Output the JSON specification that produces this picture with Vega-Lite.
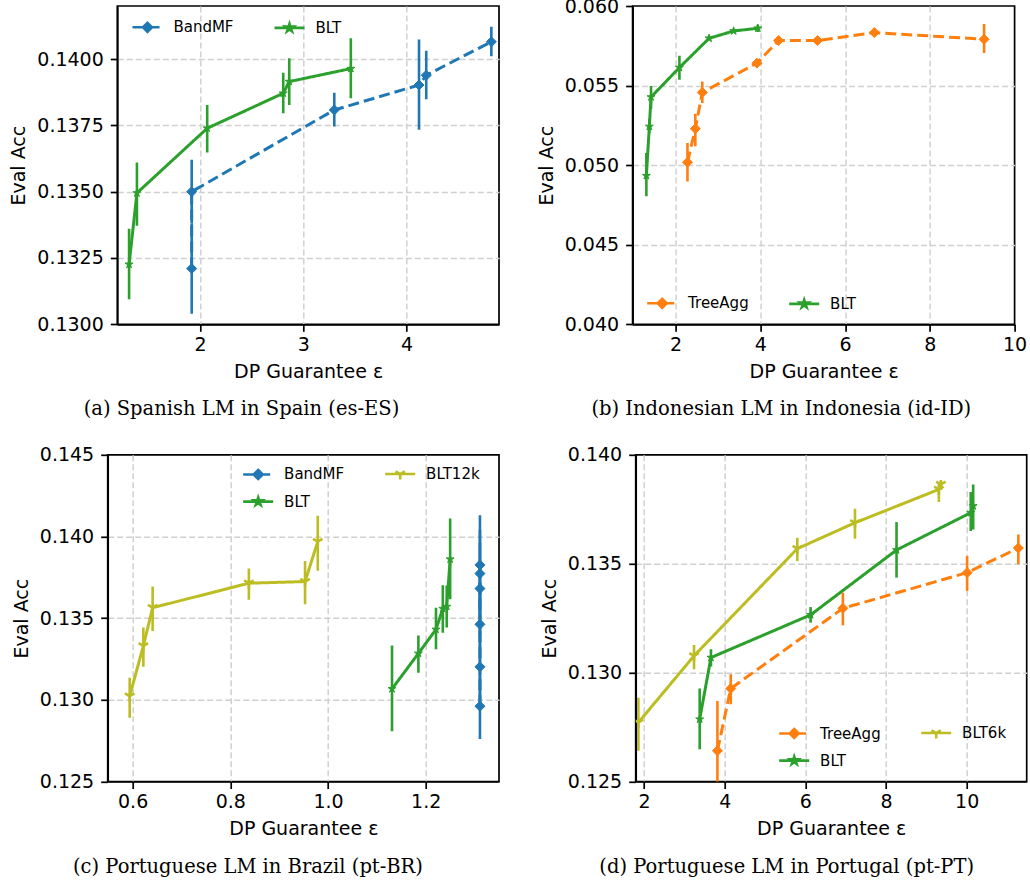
{
"$schema": "https://vega.github.io/schema/vega-lite/v6.json",
"autosize": {"type": "none"},
"padding": {"left": 107.7, "top": 6, "right": 922.3, "bottom": 879},
"background": "white",
"config": {
  "font": "DejaVu Sans",
  "view": {"stroke": "black", "strokeWidth": 1.7},
  "axis": {"labelFont": "DejaVu Sans", "labelFontSize": 19, "labelColor": "black", "titleFont": "DejaVu Sans", "titleFontSize": 19, "titleFontWeight": "normal", "titleColor": "black", "domainColor": "black", "domainWidth": 1.7, "tickColor": "black", "tickWidth": 1.7, "tickSize": 7, "grid": true, "gridColor": "#d0d0d0", "gridDash": [6, 3], "gridWidth": 1.5, "labelFlush": false, "labelOverlap": false},
  "axisX": {"labelPadding": 4, "titlePadding": 8},
  "axisY": {"labelPadding": 7, "titlePadding": 8},
  "title": {"font": "DejaVu Serif", "fontSize": 19.5, "fontWeight": "normal", "color": "black"},
  "legend": {"columns": 2, "padding": 0, "symbolSize": 900, "symbolStrokeWidth": 2.6, "symbolOpacity": 1, "labelFont": "DejaVu Sans", "labelFontSize": 15, "labelColor": "black", "labelOffset": 9.4, "columnPadding": 35, "rowPadding": -9.5}
},
"datasets": {
  "a": [
    {"s": "BandMF", "i": 0, "x": 1.92, "y": 0.1321, "lo": 0.1304, "hi": 0.1338},
    {"s": "BandMF", "i": 1, "x": 1.92, "y": 0.1350, "lo": 0.1338, "hi": 0.1362},
    {"s": "BandMF", "i": 2, "x": 3.30, "y": 0.13808, "lo": 0.13746, "hi": 0.13873},
    {"s": "BandMF", "i": 3, "x": 4.12, "y": 0.13902, "lo": 0.13733, "hi": 0.14074},
    {"s": "BandMF", "i": 4, "x": 4.19, "y": 0.13939, "lo": 0.13848, "hi": 0.14031},
    {"s": "BandMF", "i": 5, "x": 4.82, "y": 0.14065, "lo": 0.14011, "hi": 0.14122},
    {"s": "BLT", "i": 0, "x": 1.314, "y": 0.13226, "lo": 0.13094, "hi": 0.1336},
    {"s": "BLT", "i": 1, "x": 1.39, "y": 0.13495, "lo": 0.13372, "hi": 0.1361},
    {"s": "BLT", "i": 2, "x": 2.07, "y": 0.13739, "lo": 0.13648, "hi": 0.13827},
    {"s": "BLT", "i": 3, "x": 2.806, "y": 0.13871, "lo": 0.13796, "hi": 0.13948},
    {"s": "BLT", "i": 4, "x": 2.864, "y": 0.13915, "lo": 0.13827, "hi": 0.14003},
    {"s": "BLT", "i": 5, "x": 3.46, "y": 0.13964, "lo": 0.13852, "hi": 0.14078}
  ],
  "b": [
    {"s": "TreeAgg", "i": 0, "x": 2.28, "y": 0.05018, "lo": 0.04898, "hi": 0.05139},
    {"s": "TreeAgg", "i": 1, "x": 2.465, "y": 0.05229, "lo": 0.05118, "hi": 0.05323},
    {"s": "TreeAgg", "i": 2, "x": 2.63, "y": 0.05457, "lo": 0.0539, "hi": 0.05525},
    {"s": "TreeAgg", "i": 3, "x": 3.92, "y": 0.05641, "lo": 0.05625, "hi": 0.05657},
    {"s": "TreeAgg", "i": 4, "x": 4.43, "y": 0.05783, "lo": 0.0577, "hi": 0.05796},
    {"s": "TreeAgg", "i": 5, "x": 5.35, "y": 0.05783, "lo": 0.05772, "hi": 0.05794},
    {"s": "TreeAgg", "i": 6, "x": 6.69, "y": 0.05833, "lo": 0.05822, "hi": 0.05844},
    {"s": "TreeAgg", "i": 7, "x": 9.28, "y": 0.05791, "lo": 0.05704, "hi": 0.05887},
    {"s": "BLT", "i": 0, "x": 1.31, "y": 0.04934, "lo": 0.04805, "hi": 0.05076},
    {"s": "BLT", "i": 1, "x": 1.38, "y": 0.05243, "lo": 0.052, "hi": 0.0529},
    {"s": "BLT", "i": 2, "x": 1.42, "y": 0.05428, "lo": 0.05355, "hi": 0.05498},
    {"s": "BLT", "i": 3, "x": 2.09, "y": 0.05613, "lo": 0.05536, "hi": 0.05687},
    {"s": "BLT", "i": 4, "x": 2.79, "y": 0.05797, "lo": 0.05785, "hi": 0.0581},
    {"s": "BLT", "i": 5, "x": 3.37, "y": 0.05843, "lo": 0.05832, "hi": 0.05854},
    {"s": "BLT", "i": 6, "x": 3.94, "y": 0.0586, "lo": 0.05837, "hi": 0.05882}
  ],
  "c": [
    {"s": "BandMF", "i": 0, "x": 1.311, "y": 0.12961, "lo": 0.1276, "hi": 0.1316},
    {"s": "BandMF", "i": 1, "x": 1.311, "y": 0.13202, "lo": 0.1295, "hi": 0.1345},
    {"s": "BandMF", "i": 2, "x": 1.311, "y": 0.13462, "lo": 0.132, "hi": 0.1372},
    {"s": "BandMF", "i": 3, "x": 1.311, "y": 0.13681, "lo": 0.134, "hi": 0.1396},
    {"s": "BandMF", "i": 4, "x": 1.311, "y": 0.13773, "lo": 0.135, "hi": 0.1404},
    {"s": "BandMF", "i": 5, "x": 1.311, "y": 0.13826, "lo": 0.1351, "hi": 0.1413},
    {"s": "BLT12k", "i": 0, "x": 0.594, "y": 0.13023, "lo": 0.1289, "hi": 0.13135},
    {"s": "BLT12k", "i": 1, "x": 0.622, "y": 0.1333, "lo": 0.13202, "hi": 0.13442},
    {"s": "BLT12k", "i": 2, "x": 0.641, "y": 0.13564, "lo": 0.13421, "hi": 0.13693},
    {"s": "BLT12k", "i": 3, "x": 0.838, "y": 0.13714, "lo": 0.13612, "hi": 0.13804},
    {"s": "BLT12k", "i": 4, "x": 0.953, "y": 0.13724, "lo": 0.13585, "hi": 0.1385},
    {"s": "BLT12k", "i": 5, "x": 0.979, "y": 0.13969, "lo": 0.1379, "hi": 0.14127},
    {"s": "BLT", "i": 0, "x": 1.131, "y": 0.13067, "lo": 0.12808, "hi": 0.13333},
    {"s": "BLT", "i": 1, "x": 1.185, "y": 0.13284, "lo": 0.13166, "hi": 0.13394},
    {"s": "BLT", "i": 2, "x": 1.221, "y": 0.13431, "lo": 0.13309, "hi": 0.13564},
    {"s": "BLT", "i": 3, "x": 1.235, "y": 0.13558, "lo": 0.13411, "hi": 0.13702},
    {"s": "BLT", "i": 4, "x": 1.243, "y": 0.13571, "lo": 0.13442, "hi": 0.137},
    {"s": "BLT", "i": 5, "x": 1.25, "y": 0.13861, "lo": 0.13615, "hi": 0.1411}
  ],
  "d": [
    {"s": "TreeAgg", "i": 0, "x": 3.82, "y": 0.12641, "lo": 0.124, "hi": 0.1287},
    {"s": "TreeAgg", "i": 1, "x": 4.15, "y": 0.12927, "lo": 0.12855, "hi": 0.12992},
    {"s": "TreeAgg", "i": 2, "x": 6.93, "y": 0.13295, "lo": 0.13217, "hi": 0.13367},
    {"s": "TreeAgg", "i": 3, "x": 10.01, "y": 0.13459, "lo": 0.13375, "hi": 0.13535},
    {"s": "TreeAgg", "i": 4, "x": 11.28, "y": 0.13572, "lo": 0.13497, "hi": 0.13634},
    {"s": "BLT", "i": 0, "x": 3.38, "y": 0.12786, "lo": 0.12648, "hi": 0.12927},
    {"s": "BLT", "i": 1, "x": 3.66, "y": 0.13069, "lo": 0.13028, "hi": 0.13107},
    {"s": "BLT", "i": 2, "x": 6.13, "y": 0.13265, "lo": 0.13229, "hi": 0.13301},
    {"s": "BLT", "i": 3, "x": 8.26, "y": 0.13563, "lo": 0.13436, "hi": 0.13691},
    {"s": "BLT", "i": 4, "x": 10.1, "y": 0.13734, "lo": 0.1365, "hi": 0.13829},
    {"s": "BLT", "i": 5, "x": 10.16, "y": 0.13765, "lo": 0.13657, "hi": 0.13864},
    {"s": "BLT6k", "i": 0, "x": 1.86, "y": 0.12771, "lo": 0.12641, "hi": 0.12885},
    {"s": "BLT6k", "i": 1, "x": 3.24, "y": 0.13077, "lo": 0.13015, "hi": 0.13127},
    {"s": "BLT6k", "i": 2, "x": 5.8, "y": 0.13569, "lo": 0.13512, "hi": 0.13619},
    {"s": "BLT6k", "i": 3, "x": 7.23, "y": 0.13688, "lo": 0.13615, "hi": 0.13752},
    {"s": "BLT6k", "i": 4, "x": 9.31, "y": 0.13841, "lo": 0.13783, "hi": 0.1387},
    {"s": "BLT6k", "i": 5, "x": 9.36, "y": 0.13864, "lo": 0.1384, "hi": 0.13884}
  ]
},
"spacing": 24.8,
"resolve": {"scale": {"color": "independent", "shape": "independent", "size": "independent", "stroke": "independent", "strokeDash": "independent", "strokeWidth": "independent"}},
"vconcat": [
  {
    "bounds": "flush",
    "spacing": 8.6,
    "resolve": {"scale": {"color": "independent", "shape": "independent", "size": "independent", "stroke": "independent", "strokeDash": "independent", "strokeWidth": "independent"}},
    "hconcat": [
      {"width": 1, "height": 1, "view": {"stroke": null}, "data": {"values": [{}]}, "mark": {"type": "point", "opacity": 0}, "encoding": {}},
      {
        "bounds": "flush",
        "spacing": 133.3,
        "resolve": {"scale": {"color": "independent", "shape": "independent", "size": "independent", "stroke": "independent", "strokeDash": "independent", "strokeWidth": "independent"}},
        "hconcat": [
          {
            "width": 381.7, "height": 318.3,
            "data": {"name": "a"},
            "title": {"text": "(a) Spanish LM in Spain (es-ES)", "orient": "bottom", "anchor": "middle", "dx": -66.7, "offset": 19},
            "encoding": {
              "x": {"field": "x", "type": "quantitative", "scale": {"domain": [1.2, 4.894], "nice": false, "zero": false}, "axis": {"values": [2, 3, 4], "format": "d", "title": "DP Guarantee ε"}},
              "y": {"field": "y", "type": "quantitative", "scale": {"domain": [0.13, 0.142], "nice": false, "zero": false}, "axis": {"values": [0.13, 0.1325, 0.135, 0.1375, 0.14], "format": ".4f", "title": "Eval Acc", "gridOpacity": {"condition": {"test": "datum.value <= 0.1301", "value": 0}, "value": 1}}},
              "color": {"field": "s", "type": "nominal", "scale": {"domain": ["BandMF", "BLT"], "range": ["#1f77b4", "#2ca02c"]}, "legend": null}
            },
            "layer": [
              {"mark": {"type": "rule", "strokeWidth": 2.6, "clip": true}, "encoding": {"y": {"field": "lo", "type": "quantitative", "scale": {"domain": [0.13, 0.142], "nice": false, "zero": false}, "axis": {"values": [0.13, 0.1325, 0.135, 0.1375, 0.14], "format": ".4f", "title": "Eval Acc", "gridOpacity": {"condition": {"test": "datum.value <= 0.1301", "value": 0}, "value": 1}}}, "y2": {"field": "hi"}}},
              {"mark": {"type": "line", "strokeWidth": 3, "clip": true}, "encoding": {"order": {"field": "i", "type": "quantitative"}, "strokeDash": {"field": "s", "type": "nominal", "scale": {"domain": ["BandMF", "BLT"], "range": [[11, 5], [1, 0]]}, "legend": null}}},
              {"mark": {"type": "point", "filled": true, "opacity": 1, "clip": true}, "encoding": {
                "shape": {"field": "s", "type": "nominal", "scale": {"domain": ["BandMF", "BLT"], "range": ["M0,-1L1,0L0,1L-1,0Z", "M0,-1L0.223,-0.307L0.951,-0.309L0.361,0.117L0.588,0.809L0,0.38L-0.588,0.809L-0.361,0.117L-0.951,-0.309L-0.223,-0.307Z"]}, "legend": null},
                "size": {"field": "s", "type": "nominal", "scale": {"type": "ordinal", "domain": ["BandMF", "BLT"], "range": [100, 70]}, "legend": null},
                "stroke": {"field": "s", "type": "nominal", "scale": {"domain": ["BandMF", "BLT"], "range": ["#1f77b4", "#2ca02c"]}, "legend": null},
                "strokeWidth": {"field": "s", "type": "nominal", "scale": {"type": "ordinal", "domain": ["BandMF", "BLT"], "range": [1, 1]}, "legend": null}
              }},
              {"mark": {"type": "point", "filled": true, "opacity": 0}, "encoding": {
                "color": {"field": "s", "type": "nominal", "scale": {"domain": ["BandMF", "BLT"], "range": ["#1f77b4", "#2ca02c"]}, "legend": {"title": null, "orient": "none", "legendX": 13.7, "legendY": 4.4}},
                "shape": {"field": "s", "type": "nominal", "scale": {"domain": ["BandMF", "BLT"], "range": ["M-1,0H-0.25M0.25,0H0.8M0,-0.3L0.3,0L0,0.3L-0.3,0Z", "M-1,0H1M0,-0.27L0.06,-0.083L0.257,-0.084L0.097,0.032L0.158,0.219L0,0.103L-0.158,0.219L-0.097,0.032L-0.257,-0.084L-0.06,-0.083Z"]}, "legend": {"title": null, "orient": "none", "legendX": 13.7, "legendY": 4.4}},
                "stroke": {"field": "s", "type": "nominal", "scale": {"domain": ["BandMF", "BLT"], "range": ["#1f77b4", "#2ca02c"]}, "legend": {"title": null, "orient": "none", "legendX": 13.7, "legendY": 4.4}}
              }}
            ],
            "resolve": {"scale": {"color": "independent", "shape": "independent", "stroke": "independent"}}
          },
          {
            "width": 382, "height": 318.3,
            "data": {"name": "b"},
            "title": {"text": "(b) Indonesian LM in Indonesia (id-ID)", "orient": "bottom", "anchor": "middle", "dx": -42.3, "offset": 19},
            "encoding": {
              "x": {"field": "x", "type": "quantitative", "scale": {"domain": [0.985, 10], "nice": false, "zero": false}, "axis": {"values": [2, 4, 6, 8, 10], "format": "d", "title": "DP Guarantee ε", "gridOpacity": {"condition": {"test": "datum.value >= 9.99", "value": 0}, "value": 1}}},
              "y": {"field": "y", "type": "quantitative", "scale": {"domain": [0.04, 0.06], "nice": false, "zero": false}, "axis": {"values": [0.04, 0.045, 0.05, 0.055, 0.06], "format": ".3f", "title": "Eval Acc", "gridOpacity": {"condition": {"test": "datum.value >= 0.0599 || datum.value <= 0.0401", "value": 0}, "value": 1}}},
              "color": {"field": "s", "type": "nominal", "scale": {"domain": ["TreeAgg", "BLT"], "range": ["#ff7f0e", "#2ca02c"]}, "legend": null}
            },
            "layer": [
              {"mark": {"type": "rule", "strokeWidth": 2.6, "clip": true}, "encoding": {"y": {"field": "lo", "type": "quantitative", "scale": {"domain": [0.04, 0.06], "nice": false, "zero": false}, "axis": {"values": [0.04, 0.045, 0.05, 0.055, 0.06], "format": ".3f", "title": "Eval Acc", "gridOpacity": {"condition": {"test": "datum.value >= 0.0599 || datum.value <= 0.0401", "value": 0}, "value": 1}}}, "y2": {"field": "hi"}}},
              {"mark": {"type": "line", "strokeWidth": 3, "clip": true}, "encoding": {"order": {"field": "i", "type": "quantitative"}, "strokeDash": {"field": "s", "type": "nominal", "scale": {"domain": ["TreeAgg", "BLT"], "range": [[11, 5], [1, 0]]}, "legend": null}}},
              {"mark": {"type": "point", "filled": true, "opacity": 1, "clip": true}, "encoding": {
                "shape": {"field": "s", "type": "nominal", "scale": {"domain": ["TreeAgg", "BLT"], "range": ["M0,-1L1,0L0,1L-1,0Z", "M0,-1L0.223,-0.307L0.951,-0.309L0.361,0.117L0.588,0.809L0,0.38L-0.588,0.809L-0.361,0.117L-0.951,-0.309L-0.223,-0.307Z"]}, "legend": null},
                "size": {"field": "s", "type": "nominal", "scale": {"type": "ordinal", "domain": ["TreeAgg", "BLT"], "range": [100, 70]}, "legend": null},
                "stroke": {"field": "s", "type": "nominal", "scale": {"domain": ["TreeAgg", "BLT"], "range": ["#ff7f0e", "#2ca02c"]}, "legend": null},
                "strokeWidth": {"field": "s", "type": "nominal", "scale": {"type": "ordinal", "domain": ["TreeAgg", "BLT"], "range": [1, 1]}, "legend": null}
              }},
              {"mark": {"type": "point", "filled": true, "opacity": 0}, "encoding": {
                "color": {"field": "s", "type": "nominal", "scale": {"domain": ["TreeAgg", "BLT"], "range": ["#ff7f0e", "#2ca02c"]}, "legend": {"title": null, "orient": "none", "legendX": 13.1, "legendY": 280.4}},
                "shape": {"field": "s", "type": "nominal", "scale": {"domain": ["TreeAgg", "BLT"], "range": ["M-1,0H-0.25M0.25,0H0.8M0,-0.3L0.3,0L0,0.3L-0.3,0Z", "M-1,0H1M0,-0.27L0.06,-0.083L0.257,-0.084L0.097,0.032L0.158,0.219L0,0.103L-0.158,0.219L-0.097,0.032L-0.257,-0.084L-0.06,-0.083Z"]}, "legend": {"title": null, "orient": "none", "legendX": 13.1, "legendY": 280.4}},
                "stroke": {"field": "s", "type": "nominal", "scale": {"domain": ["TreeAgg", "BLT"], "range": ["#ff7f0e", "#2ca02c"]}, "legend": {"title": null, "orient": "none", "legendX": 13.1, "legendY": 280.4}}
              }}
            ],
            "resolve": {"scale": {"color": "independent", "shape": "independent", "stroke": "independent"}}
          }
        ]
      }
    ]
  },
  {
    "bounds": "flush",
    "spacing": 136,
    "resolve": {"scale": {"color": "independent", "shape": "independent", "size": "independent", "stroke": "independent", "strokeDash": "independent", "strokeWidth": "independent"}},
    "hconcat": [
      {
        "width": 391.3, "height": 326.7,
        "data": {"name": "c"},
        "title": {"text": "(c) Portuguese LM in Brazil (pt-BR)", "orient": "bottom", "anchor": "middle", "dx": -55.4, "offset": 19},
        "encoding": {
          "x": {"field": "x", "type": "quantitative", "scale": {"domain": [0.549, 1.35], "nice": false, "zero": false}, "axis": {"values": [0.6, 0.8, 1.0, 1.2], "format": ".1f", "title": "DP Guarantee ε"}},
          "y": {"field": "y", "type": "quantitative", "scale": {"domain": [0.125, 0.145], "nice": false, "zero": false}, "axis": {"values": [0.125, 0.13, 0.135, 0.14, 0.145], "format": ".3f", "title": "Eval Acc", "gridOpacity": {"condition": {"test": "datum.value >= 0.1449 || datum.value <= 0.1251", "value": 0}, "value": 1}}},
          "color": {"field": "s", "type": "nominal", "scale": {"domain": ["BandMF", "BLT", "BLT12k"], "range": ["#1f77b4", "#2ca02c", "#bcbd22"]}, "legend": null}
        },
        "layer": [
          {"mark": {"type": "rule", "strokeWidth": 2.6, "clip": true}, "encoding": {"y": {"field": "lo", "type": "quantitative", "scale": {"domain": [0.125, 0.145], "nice": false, "zero": false}, "axis": {"values": [0.125, 0.13, 0.135, 0.14, 0.145], "format": ".3f", "title": "Eval Acc", "gridOpacity": {"condition": {"test": "datum.value >= 0.1449 || datum.value <= 0.1251", "value": 0}, "value": 1}}}, "y2": {"field": "hi"}}},
          {"mark": {"type": "line", "strokeWidth": 3, "clip": true}, "encoding": {"order": {"field": "i", "type": "quantitative"}, "strokeDash": {"field": "s", "type": "nominal", "scale": {"domain": ["BandMF", "BLT", "BLT12k"], "range": [[11, 5], [1, 0], [1, 0]]}, "legend": null}}},
          {"mark": {"type": "point", "filled": true, "opacity": 1, "clip": true}, "encoding": {
            "shape": {"field": "s", "type": "nominal", "scale": {"domain": ["BandMF", "BLT", "BLT12k"], "range": ["M0,-1L1,0L0,1L-1,0Z", "M0,-1L0.223,-0.307L0.951,-0.309L0.361,0.117L0.588,0.809L0,0.38L-0.588,0.809L-0.361,0.117L-0.951,-0.309L-0.223,-0.307Z", "M0,0L0,1M0,0L-0.866,-0.5M0,0L0.866,-0.5"]}, "legend": null},
            "size": {"field": "s", "type": "nominal", "scale": {"type": "ordinal", "domain": ["BandMF", "BLT", "BLT12k"], "range": [100, 70, 120]}, "legend": null},
            "stroke": {"field": "s", "type": "nominal", "scale": {"domain": ["BandMF", "BLT", "BLT12k"], "range": ["#1f77b4", "#2ca02c", "#bcbd22"]}, "legend": null},
            "strokeWidth": {"field": "s", "type": "nominal", "scale": {"type": "ordinal", "domain": ["BandMF", "BLT", "BLT12k"], "range": [1, 1, 2.6]}, "legend": null}
          }},
          {"mark": {"type": "point", "filled": true, "opacity": 0}, "encoding": {
            "color": {"field": "s", "type": "nominal", "scale": {"domain": ["BandMF", "BLT", "BLT12k"], "range": ["#1f77b4", "#2ca02c", "#bcbd22"]}, "legend": {"title": null, "orient": "none", "legendX": 134, "legendY": 2.3}},
            "shape": {"field": "s", "type": "nominal", "scale": {"domain": ["BandMF", "BLT", "BLT12k"], "range": ["M-1,0H-0.25M0.25,0H0.8M0,-0.3L0.3,0L0,0.3L-0.3,0Z", "M-1,0H1M0,-0.27L0.06,-0.083L0.257,-0.084L0.097,0.032L0.158,0.219L0,0.103L-0.158,0.219L-0.097,0.032L-0.257,-0.084L-0.06,-0.083Z", "M-1,0H1M0,0V0.36M0,0L-0.31,-0.18M0,0L0.31,-0.18"]}, "legend": {"title": null, "orient": "none", "legendX": 134, "legendY": 2.3}},
            "stroke": {"field": "s", "type": "nominal", "scale": {"domain": ["BandMF", "BLT", "BLT12k"], "range": ["#1f77b4", "#2ca02c", "#bcbd22"]}, "legend": {"title": null, "orient": "none", "legendX": 134, "legendY": 2.3}}
          }}
        ],
        "resolve": {"scale": {"color": "independent", "shape": "independent", "stroke": "independent"}}
      },
      {
        "width": 391, "height": 326.7,
        "data": {"name": "d"},
        "title": {"text": "(d) Portuguese LM in Portugal (pt-PT)", "orient": "bottom", "anchor": "middle", "dx": -44.5, "offset": 19},
        "encoding": {
          "x": {"field": "x", "type": "quantitative", "scale": {"domain": [1.794, 11.487], "nice": false, "zero": false}, "axis": {"values": [2, 4, 6, 8, 10], "format": "d", "title": "DP Guarantee ε"}},
          "y": {"field": "y", "type": "quantitative", "scale": {"domain": [0.125, 0.14], "nice": false, "zero": false}, "axis": {"values": [0.125, 0.13, 0.135, 0.14], "format": ".3f", "title": "Eval Acc", "gridOpacity": {"condition": {"test": "datum.value >= 0.1399 || datum.value <= 0.1251", "value": 0}, "value": 1}}},
          "color": {"field": "s", "type": "nominal", "scale": {"domain": ["TreeAgg", "BLT", "BLT6k"], "range": ["#ff7f0e", "#2ca02c", "#bcbd22"]}, "legend": null}
        },
        "layer": [
          {"mark": {"type": "rule", "strokeWidth": 2.6, "clip": true}, "encoding": {"y": {"field": "lo", "type": "quantitative", "scale": {"domain": [0.125, 0.14], "nice": false, "zero": false}, "axis": {"values": [0.125, 0.13, 0.135, 0.14], "format": ".3f", "title": "Eval Acc", "gridOpacity": {"condition": {"test": "datum.value >= 0.1399 || datum.value <= 0.1251", "value": 0}, "value": 1}}}, "y2": {"field": "hi"}}},
          {"mark": {"type": "line", "strokeWidth": 3, "clip": true}, "encoding": {"order": {"field": "i", "type": "quantitative"}, "strokeDash": {"field": "s", "type": "nominal", "scale": {"domain": ["TreeAgg", "BLT", "BLT6k"], "range": [[11, 5], [1, 0], [1, 0]]}, "legend": null}}},
          {"mark": {"type": "point", "filled": true, "opacity": 1, "clip": true}, "encoding": {
            "shape": {"field": "s", "type": "nominal", "scale": {"domain": ["TreeAgg", "BLT", "BLT6k"], "range": ["M0,-1L1,0L0,1L-1,0Z", "M0,-1L0.223,-0.307L0.951,-0.309L0.361,0.117L0.588,0.809L0,0.38L-0.588,0.809L-0.361,0.117L-0.951,-0.309L-0.223,-0.307Z", "M0,0L0,1M0,0L-0.866,-0.5M0,0L0.866,-0.5"]}, "legend": null},
            "size": {"field": "s", "type": "nominal", "scale": {"type": "ordinal", "domain": ["TreeAgg", "BLT", "BLT6k"], "range": [100, 70, 120]}, "legend": null},
            "stroke": {"field": "s", "type": "nominal", "scale": {"domain": ["TreeAgg", "BLT", "BLT6k"], "range": ["#ff7f0e", "#2ca02c", "#bcbd22"]}, "legend": null},
            "strokeWidth": {"field": "s", "type": "nominal", "scale": {"type": "ordinal", "domain": ["TreeAgg", "BLT", "BLT6k"], "range": [1, 1, 2.6]}, "legend": null}
          }},
          {"mark": {"type": "point", "filled": true, "opacity": 0}, "encoding": {
            "color": {"field": "s", "type": "nominal", "scale": {"domain": ["TreeAgg", "BLT", "BLT6k"], "range": ["#ff7f0e", "#2ca02c", "#bcbd22"]}, "legend": {"title": null, "orient": "none", "legendX": 142, "legendY": 261.3}},
            "shape": {"field": "s", "type": "nominal", "scale": {"domain": ["TreeAgg", "BLT", "BLT6k"], "range": ["M-1,0H-0.25M0.25,0H0.8M0,-0.3L0.3,0L0,0.3L-0.3,0Z", "M-1,0H1M0,-0.27L0.06,-0.083L0.257,-0.084L0.097,0.032L0.158,0.219L0,0.103L-0.158,0.219L-0.097,0.032L-0.257,-0.084L-0.06,-0.083Z", "M-1,0H1M0,0V0.36M0,0L-0.31,-0.18M0,0L0.31,-0.18"]}, "legend": {"title": null, "orient": "none", "legendX": 142, "legendY": 261.3}},
            "stroke": {"field": "s", "type": "nominal", "scale": {"domain": ["TreeAgg", "BLT", "BLT6k"], "range": ["#ff7f0e", "#2ca02c", "#bcbd22"]}, "legend": {"title": null, "orient": "none", "legendX": 142, "legendY": 261.3}}
          }}
        ],
        "resolve": {"scale": {"color": "independent", "shape": "independent", "stroke": "independent"}}
      }
    ]
  }
]
}
